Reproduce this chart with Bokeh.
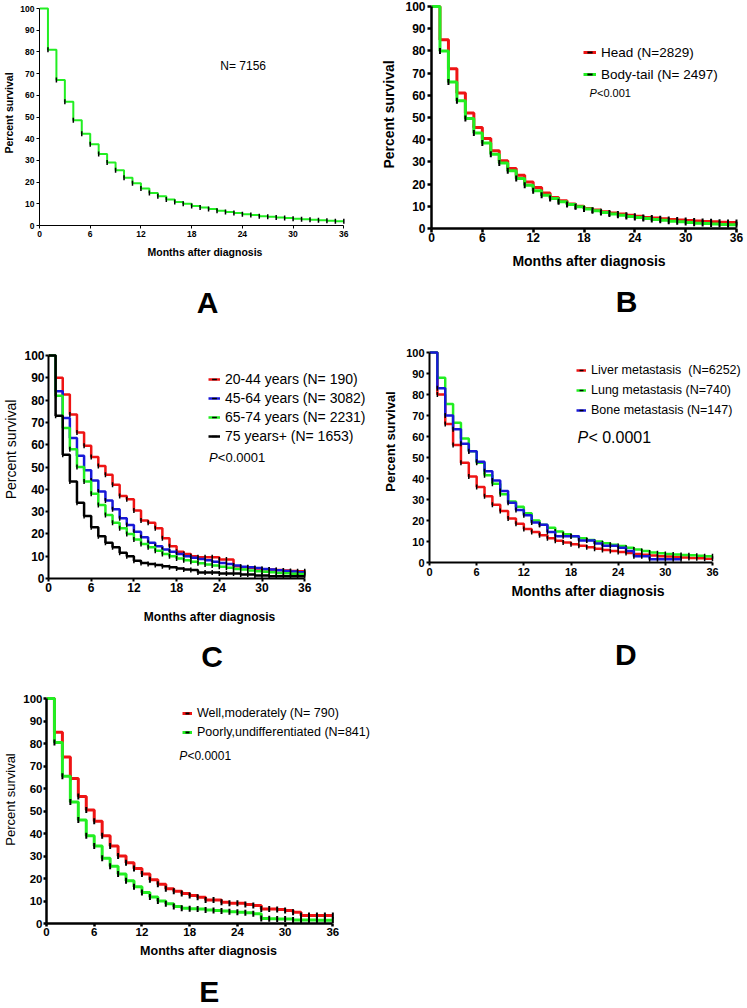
import math
from bokeh.plotting import figure
from bokeh.models import Range1d, FixedTicker, Legend, LegendItem, Label, Spacer
from bokeh.layouts import row, column
from bokeh.embed import file_html
from bokeh.resources import INLINE

# ---------------- data (percent survival at each month, step starts) ----------------
months = list(range(37))
months_bone = list(range(33))
x_ticks = [0, 6, 12, 18, 24, 30, 36]
y_ticks = [0, 10, 20, 30, 40, 50, 60, 70, 80, 90, 100]

a_all = [100, 81, 67, 57, 48.5, 42.3, 37.5, 33, 29, 25.5, 22, 19.5, 17, 15, 13.5, 12, 10.8, 10,
         9, 8.3, 7.6, 6.8, 6.2, 5.8, 5.2, 4.8, 4.3, 4.0, 3.7, 3.4, 3.1, 2.9, 2.6, 2.4, 2.2, 2.0, 2.0]

b_head = [100, 85, 72, 61, 52, 45.5, 40.5, 35, 30.5, 27, 24, 21, 18.5, 16, 14, 12.5, 11, 10,
          9, 8.3, 7.5, 7, 6.5, 6, 5.5, 5, 4.7, 4.4, 4.1, 3.8, 3.6, 3.4, 3.2, 3, 2.8, 2.7, 2.7]
b_body = [100, 80, 66, 57.5, 49.5, 43, 38.5, 33.5, 29.5, 26, 22.5, 19.5, 17, 15, 13.5, 12, 10.8, 9.8,
          8.8, 8, 7.2, 6.5, 6, 5.4, 5, 4.5, 4, 3.7, 3.3, 3, 2.7, 2.4, 2.2, 2, 1.8, 1.7, 1.7]

c_20_44 = [100, 90, 82.5, 73.5, 65.5, 59.5, 54.5, 50.5, 46.5, 42, 37, 35.5, 30.5, 26, 25, 22.5, 18, 14.5,
           12, 11, 10, 9.5, 9.5, 9.5, 8.5, 8.5, 5.5, 5, 4.8, 4.5, 4.2, 4, 3.8, 3.6, 3.4, 3.2, 3.2]
c_45_64 = [100, 84, 72, 63, 55, 48.5, 44, 39, 35, 31, 27, 24, 21, 18.5, 16, 14.5, 13, 12,
           11, 10, 9.3, 8.8, 8.2, 7.5, 7, 6.5, 5.8, 5.3, 5, 4.7, 4.3, 4, 3.7, 3.4, 3.1, 2.8, 2.8]
c_65_74 = [100, 82, 67.5, 58, 50, 43.5, 38, 33, 28.5, 25, 22.5, 20, 17.5, 15.5, 14, 12.5, 11, 10,
           9, 8.2, 7.5, 6.8, 6.3, 5.8, 5.3, 4.8, 4.3, 4, 3.6, 3.3, 3, 2.8, 2.5, 2.3, 2.1, 2, 2]
c_75_plus = [100, 73, 55.5, 43.5, 34, 28, 23, 19, 16, 14, 11.5, 10, 8, 7, 6.5, 6, 5.5, 5,
             4.5, 4, 3.8, 2.7, 2.7, 2.7, 2.2, 2.2, 2.2, 1.8, 1.8, 1.3, 1.3, 1, 1, 1, 1, 1, 1]

d_liver = [100, 80, 66, 56, 47.5, 41, 36, 31.5, 27.5, 24.5, 21, 18.5, 16, 14.5, 13, 11.5, 10.3, 9.5,
           8.7, 8, 7.3, 6.6, 6, 5.5, 5, 4.5, 4, 3.7, 3.3, 3, 2.8, 2.6, 2.4, 2.2, 2, 1.8, 1.8]
d_lung = [100, 88, 75.5, 66.5, 59, 53, 47.5, 41.5, 37.5, 32.5, 29, 26.5, 23.5, 20, 18, 16.5, 14.8, 13.5,
          12.5, 11.5, 10.7, 10, 9.2, 8.5, 7.8, 7, 6.2, 5.5, 4.8, 4.4, 4, 3.8, 3.6, 3.4, 3.2, 3, 3]
d_bone = [100, 83, 70, 63.5, 56.5, 53, 48, 43.5, 39, 34, 28.5, 25, 22.5, 19, 18, 14.5, 12.5, 12.5,
          12.5, 10.5, 10.5, 9, 8, 8, 7, 5.5, 3, 3, 1.5, 1.5, 1.5, 1.5, 1.5]

e_well = [100, 85, 74, 64.5, 56.5, 50.5, 45.5, 39, 34.5, 30, 27, 24.5, 22, 19.5, 17.5, 15.5, 14.3, 13.3,
          12.4, 11.7, 10.5, 10.5, 9.5, 9, 9, 8.5, 8, 6.5, 6.5, 6.2, 5.8, 5, 3.6, 3.6, 3.6, 3.6, 3.6]
e_poorly = [100, 80.5, 65.5, 54, 46, 39, 34.5, 29, 25.5, 22, 19, 16.3, 13.8, 11.8, 10, 8.8, 7.6, 6.8,
            6.6, 6.4, 6, 5.8, 5.6, 5.2, 5, 4.8, 4.3, 2.2, 2.1, 2, 2, 1.6, 1.6, 1.6, 1.5, 1.5, 1.5]

FONT = "Liberation Sans"
GREEN = "#22EE22"
RED = "#EE1414"
BLUE = "#1818D8"
BLACK = "#000000"


def make_panel(canvas, X0, X36, Y0, Y100, st):
    cx0, cy0, cx1, cy1 = canvas
    fr = cx1
    x_end = 36.0 * (fr - X0) / (X36 - X0)
    y_end = 100.0 * (Y0 - cy0) / (Y0 - Y100)
    p = figure(width=cx1 - cx0, height=cy1 - cy0, output_backend="svg", toolbar_location=None,
               x_range=Range1d(0, x_end), y_range=Range1d(0, y_end),
               min_border_left=X0 - cx0, min_border_right=0,
               min_border_top=0, min_border_bottom=cy1 - Y0)
    p.outline_line_color = None
    p.grid.visible = False
    p.background_fill_color = "white"
    p.border_fill_color = "white"
    for ax in (p.xaxis[0], p.yaxis[0]):
        ax.axis_line_width = st["axis_w"]
        ax.major_tick_line_width = st["axis_w"]
        ax.major_tick_out = st["tick_out"]
        ax.major_tick_in = 0
        ax.minor_tick_out = 0
        ax.minor_tick_in = 0
        ax.major_label_text_font = FONT
        ax.major_label_text_font_style = "bold"
        ax.major_label_text_font_size = st["tick_fs"]
        ax.major_label_text_color = BLACK
        ax.axis_label_text_font = FONT
        ax.axis_label_text_color = BLACK
    p.xaxis.bounds = (0, 36)
    p.yaxis.bounds = (0, 100)
    p.xaxis.major_label_standoff = st["x_ls"]
    p.yaxis.major_label_standoff = st["y_ls"]
    p.xaxis.ticker = FixedTicker(ticks=x_ticks)
    p.yaxis.ticker = FixedTicker(ticks=y_ticks)
    p.xaxis.axis_label = "Months after diagnosis"
    p.yaxis.axis_label = "Percent survival"
    p.xaxis.axis_label_text_font_size = st["xlab_fs"]
    p.yaxis.axis_label_text_font_size = st["ylab_fs"]
    p.xaxis.axis_label_text_font_style = "bold"
    p.yaxis.axis_label_text_font_style = st["ylab_style"]
    p.xaxis.axis_label_standoff = st["xlab_standoff"]
    p.yaxis.axis_label_standoff = st["ylab_standoff"]
    p._map = (X0, X36, Y0, Y100)
    return p


def to_data(p, px, py):
    X0, X36, Y0, Y100 = p._map
    return (px - X0) / (X36 - X0) * 36.0, (Y0 - py) / (Y0 - Y100) * 100.0


def add_curve(p, xs, ys, color, lw, tick_size, tick_w):
    lr = p.step(xs, ys, mode="after", line_color=color, line_width=lw)
    tr = p.scatter(xs[1:], ys[1:], marker="dash", angle=math.pi / 2, size=tick_size,
                   line_color=BLACK, line_width=tick_w)
    return lr, tr


def add_legend(p, entries, left_px, first_center_py, pitch, fs, glyph_w=13, standoff=5):
    X0, X36, Y0, Y100 = p._map
    h = 16
    n = len(entries)
    spacing = int(round(pitch - h))
    leg_h = n * h + (n - 1) * spacing
    bottom = first_center_py - h / 2 + leg_h
    leg = Legend(items=[LegendItem(label=lab, renderers=list(rs)) for lab, rs in entries],
                 location=(int(left_px - X0), int(round(Y0 - bottom))), padding=0, margin=0,
                 spacing=spacing, label_height=h, glyph_height=h, glyph_width=glyph_w,
                 label_standoff=standoff, label_text_font=FONT, label_text_font_size=fs,
                 label_text_color=BLACK, background_fill_alpha=0, border_line_alpha=0)
    p.add_layout(leg)


def add_p(p, left_px, center_py, fs, rest):
    x, y = to_data(p, left_px, center_py)
    p.add_layout(Label(x=x, y=y, text="P", text_font=FONT, text_font_size=fs,
                       text_font_style="italic", text_baseline="middle", text_color=BLACK))
    size = float(fs.replace("px", ""))
    p.add_layout(Label(x=x, y=y, x_offset=size * 0.68, text=rest, text_font=FONT,
                       text_font_size=fs, text_baseline="middle", text_color=BLACK))


def letter_fig(canvas, letter, cx, cy):
    x0, y0, x1, y1 = canvas
    w, h = x1 - x0, y1 - y0
    f = figure(width=w, height=h, output_backend="svg", toolbar_location=None,
               x_range=Range1d(0, w), y_range=Range1d(0, h), min_border=0,
               x_axis_location=None, y_axis_location=None)
    f.outline_line_color = None
    f.grid.visible = False
    f.add_layout(Label(x=cx - x0, y=y1 - cy, text=letter, text_font=FONT, text_font_size="30px",
                       text_font_style="bold", text_align="center", text_baseline="middle",
                       text_color=BLACK))
    return f


# ---------------- panel A ----------------
stA = dict(axis_w=1, tick_out=3, tick_fs="8.5px", x_ls=2, y_ls=2, xlab_fs="10.5px", ylab_fs="10.5px",
           ylab_style="bold", xlab_standoff=6, ylab_standoff=2)
pA = make_panel((0, 0, 370, 280), 35, 343, 225, 8, stA)
add_curve(pA, months, a_all, GREEN, 2, 5, 1.5)
nx, ny = to_data(pA, 218, 65)
pA.add_layout(Label(x=nx, y=ny, text="N= 7156", text_font=FONT, text_font_size="12px",
                    text_baseline="middle", text_color=BLACK))
lA = letter_fig((0, 280, 370, 320), "A", 188, 302)

# ---------------- panel B ----------------
stB = dict(axis_w=2.5, tick_out=4, tick_fs="12px", x_ls=0, y_ls=2, xlab_fs="14px", ylab_fs="14px",
           ylab_style="bold", xlab_standoff=8, ylab_standoff=5)
pB = make_panel((370, 0, 746, 280), 431, 736, 228, 6, stB)
rB1 = add_curve(pB, months, b_head, RED, 3, 6, 2)
rB2 = add_curve(pB, months, b_body, GREEN, 3, 6, 2)
add_legend(pB, [("Head (N=2829)", rB1), ("Body-tail (N= 2497)", rB2)], 583, 52, 22, "13.5px")
add_p(pB, 589, 92, "11px", "<0.001")
lB = letter_fig((370, 280, 746, 320), "B", 603, 301)

# ---------------- panel C ----------------
stC = dict(axis_w=2, tick_out=3, tick_fs="12px", x_ls=1, y_ls=1, xlab_fs="12px", ylab_fs="14px",
           ylab_style="normal", xlab_standoff=15, ylab_standoff=2)
pC = make_panel((0, 320, 370, 636), 47, 304, 578, 355, stC)
rC1 = add_curve(pC, months, c_20_44, RED, 2.5, 5, 1.5)
rC2 = add_curve(pC, months, c_45_64, BLUE, 2.5, 5, 1.5)
rC3 = add_curve(pC, months, c_65_74, GREEN, 2.5, 5, 1.5)
rC4 = add_curve(pC, months, c_75_plus, BLACK, 2.5, 5, 1.5)
add_legend(pC, [("20-44 years (N= 190)", rC1), ("45-64 years (N= 3082)", rC2),
                ("65-74 years (N= 2231)", rC3), ("75 years+ (N= 1653)", rC4)],
           207, 379, 19, "14px", glyph_w=12)
add_p(pC, 208, 457, "13px", "<0.0001")
lC = letter_fig((0, 636, 370, 675), "C", 188, 656)

# ---------------- panel D ----------------
stD = dict(axis_w=2, tick_out=3, tick_fs="11px", x_ls=2, y_ls=2, xlab_fs="14px", ylab_fs="13px",
           ylab_style="bold", xlab_standoff=4, ylab_standoff=5)
pD = make_panel((370, 320, 746, 636), 429, 712, 562, 352, stD)
rD1 = add_curve(pD, months, d_liver, RED, 2.5, 5, 1.5)
rD2 = add_curve(pD, months, d_lung, GREEN, 2.5, 5, 1.5)
rD3 = add_curve(pD, months_bone, d_bone, BLUE, 2.5, 5, 1.5)
add_legend(pD, [("Liver metastasis  (N=6252)", rD1), ("Lung metastasis (N=740)", rD2),
                ("Bone metastasis (N=147)", rD3)], 576, 370, 20, "12.5px", glyph_w=10)
add_p(pD, 577, 437, "16px", "< 0.0001")
lD = letter_fig((370, 636, 746, 675), "D", 603, 654)

# ---------------- panel E ----------------
stE = dict(axis_w=2.5, tick_out=3, tick_fs="11.5px", x_ls=1, y_ls=1, xlab_fs="12.5px", ylab_fs="13px",
           ylab_style="normal", xlab_standoff=5, ylab_standoff=2)
pE = make_panel((0, 675, 370, 970), 43, 332, 923, 698, stE)
rE1 = add_curve(pE, months, e_well, RED, 3, 6, 2)
rE2 = add_curve(pE, months, e_poorly, GREEN, 3, 6, 2)
add_legend(pE, [("Well,moderately (N= 790)", rE1), ("Poorly,undifferentiated (N=841)", rE2)],
           179, 713, 19, "12.5px", glyph_w=10)
add_p(pE, 177, 755, "12px", "<0.0001")
lE = letter_fig((0, 970, 370, 1007), "E", 186, 991)

layout = column(
    row(column(pA, lA), column(pB, lB)),
    row(column(pC, lC), column(pD, lD)),
    row(column(pE, lE), Spacer(width=376, height=332)),
)

open("out.html", "w").write(file_html(layout, INLINE))
